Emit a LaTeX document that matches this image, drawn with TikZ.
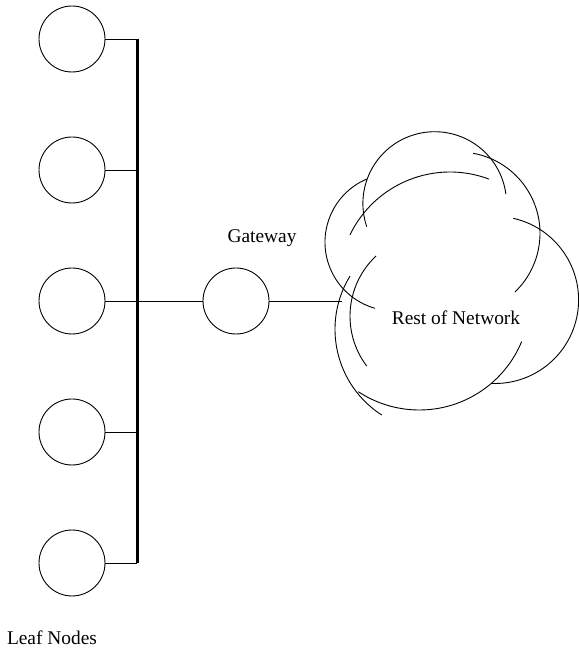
\documentclass[tikz,border=0pt]{standalone}
\usepackage{fontspec}
\setmainfont{Liberation Serif}
\begin{document}
\begin{tikzpicture}[x=1pt,y=1pt,
  hostnode/.style={circle,draw,line width=0.9pt,minimum size=66pt,inner sep=0pt},
  link/.style={line width=0.9pt},
  busline/.style={line width=3pt},
  cloudarc/.style={line width=0.9pt},
  lbl/.style={font=\fontsize{19.4}{23}\selectfont,anchor=base,inner sep=0pt}]
\useasboundingbox (0,0) rectangle (579,649);

% leaf hosts along the bus
\foreach \i/\y in {1/610,2/479,3/348,4/217,5/86}
  \node[hostnode] (leaf\i) at (72,\y) {};

% bus backbone
\coordinate (bustop) at (137,610);
\coordinate (busbot) at (137,86);
\draw[busline] (bustop) -- (busbot);
\foreach \i in {1,...,5}
  \draw[link] (leaf\i.east) -- (leaf\i.east -| bustop);

% gateway
\node[hostnode] (gw) at (236,348) {};
\draw[link] (leaf3.east -| bustop) -- (gw.west);
\coordinate (cloudedge) at (342,348);
\draw[link] (gw.east) -- (cloudedge);

% cloud outline, built from overlapping arcs
\draw[cloudarc] ([shift={(198.8:71.8)}]434.7,445.5) arc[start angle=198.8,end angle=7.6,radius=71.8];
\draw[cloudarc] ([shift={(113.1:68.7)}]393.7,406.8) arc[start angle=113.1,end angle=254.2,radius=68.7];
\draw[cloudarc] ([shift={(154.4:111)}]450,366) arc[start angle=154.4,end angle=69.4,radius=111];
\draw[cloudarc] ([shift={(79.7:81.3)}]458.7,415.7) arc[start angle=79.7,end angle=-46.2,radius=81.3];
\draw[cloudarc] ([shift={(77.4:83.6)}]495,349.1) arc[start angle=77.4,end angle=-92.3,radius=83.6];
\draw[cloudarc] ([shift={(236.6:110.8)}]419.3,349.8) arc[start angle=236.6,end angle=337.5,radius=110.8];
\draw[cloudarc] ([shift={(148.5:102)}]437,319.7) arc[start angle=148.5,end angle=237.2,radius=102];
\draw[cloudarc] ([shift={(133.2:82.6)}]432.6,332.8) arc[start angle=133.2,end angle=217.1,radius=82.6];

% labels
\node[lbl] (gwlabel) at (262,406) {Gateway};
\node[lbl] (cloudlabel) at (456,324) {Rest of Network};
\node[lbl] (leaflabel) at (52,5) {Leaf Nodes};
\end{tikzpicture}
\end{document}
